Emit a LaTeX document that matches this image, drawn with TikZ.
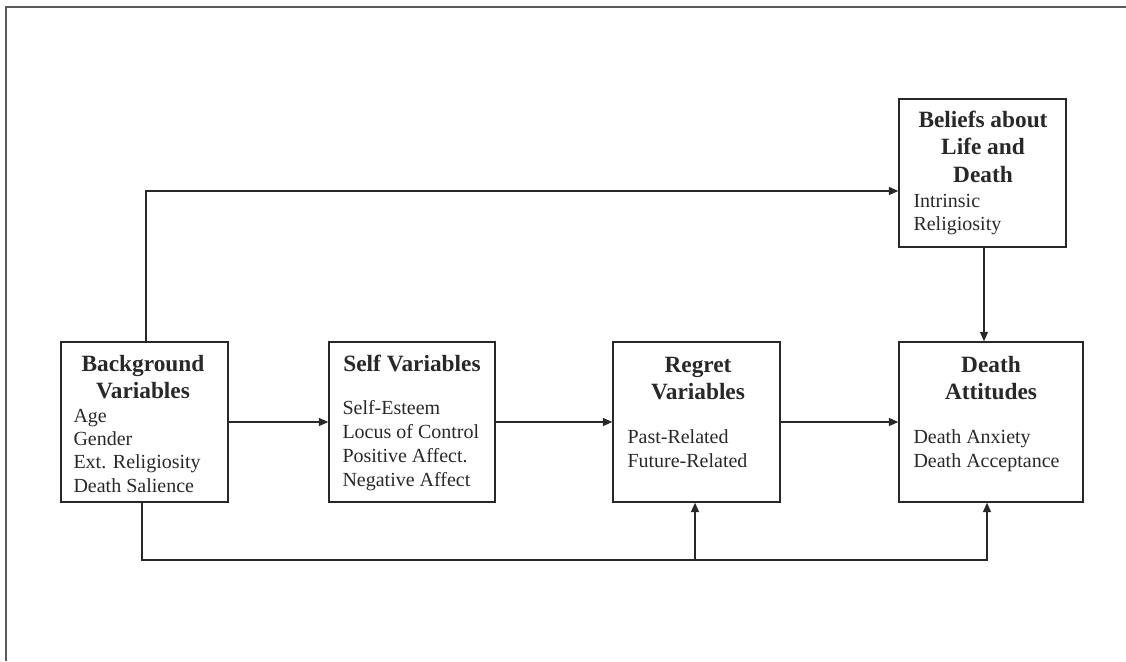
\documentclass[tikz,border=0pt]{standalone}
\usepackage{fontspec}
\setmainfont{Liberation Serif}
\usetikzlibrary{arrows.meta}

\definecolor{inkgray}{RGB}{40,40,40}
\definecolor{framegray}{RGB}{90,90,90}

\tikzset{every picture/.style={line width=0.75pt}}
\tikzset{
  varbox/.style={draw=inkgray, line width=1.1pt, inner sep=0pt},
  link/.style={draw=inkgray, line width=1pt, -{Triangle[length=7pt,width=6pt]}},
  plainlink/.style={draw=inkgray, line width=1pt},
  headtext/.style={inner sep=0pt, anchor=base, text=inkgray, font=\bfseries\fontsize{17.5}{21}\selectfont},
  itemtext/.style={inner sep=0pt, anchor=base west, text=inkgray, font=\fontsize{15}{17.5}\selectfont}
}

\begin{document}
\begin{tikzpicture}[x=0.75pt,y=0.75pt,yscale=-1,xscale=1]
	\useasboundingbox (0,0) rectangle (1126,661);

	%Frame
	\draw [draw=framegray, line width=1.5pt]  (1126,7) -- (6,7) -- (6,661) ;

	%Shape: Rectangle [background]
	\node [varbox, minimum width=125.25pt, minimum height=120pt] (bg) at (144.5,422) {};
	%Shape: Rectangle [self]
	\node [varbox, minimum width=124.5pt, minimum height=120pt] (self) at (412,422) {};
	%Shape: Rectangle [regret]
	\node [varbox, minimum width=125.25pt, minimum height=120pt] (rg) at (696.5,422) {};
	%Shape: Rectangle [death attitudes]
	\node [varbox, minimum width=138pt, minimum height=120pt] (da) at (991,422) {};
	%Shape: Rectangle [beliefs]
	\node [varbox, minimum width=125.25pt, minimum height=111pt] (bel) at (982.5,173) {};

	%Bend points
	\coordinate (topturn) at (146,191) ;
	\coordinate (botturn) at (142,560) ;
	\coordinate (rgfoot) at (695,560) ;
	\coordinate (dafoot) at (987,560) ;

	%Straight Lines [top route]
	\draw [link]  (bg.north -| topturn) -- (topturn) -- (topturn -| bel.west) ;
	%Straight Lines [beliefs to attitudes]
	\draw [link]  (bel.south -| 984,0) -- (da.north -| 984,0) ;
	%Straight Lines [main chain]
	\draw [link]  (bg.east) -- (self.west) ;
	\draw [link]  (self.east) -- (rg.west) ;
	\draw [link]  (rg.east) -- (da.west) ;
	%Straight Lines [bottom route]
	\draw [plainlink]  (bg.south -| botturn) -- (botturn) -- (rgfoot) ;
	\draw [link]  (rgfoot) -- (rgfoot |- rg.south) ;
	\draw [link]  (rgfoot) -- (dafoot) -- (dafoot |- da.south) ;

	% Text Node
	\node [headtext] (bgh1) at (143,371) {Background};
	% Text Node
	\node [headtext] (bgh2) at (143,398) {Variables};
	% Text Node
	\node [itemtext] (bgi1) at (73,422) {Age};
	% Text Node
	\node [itemtext] (bgi2) at (73,445) {Gender};
	% Text Node
	\node [itemtext] (bgi3) at (73,468.5) {Ext. Religiosity};
	% Text Node
	\node [itemtext] (bgi4) at (73,492) {Death Salience};

	% Text Node
	\node [headtext] (selfh) at (412,371.5) {Self Variables};
	% Text Node
	\node [itemtext] (selfi1) at (342,414) {Self-Esteem};
	% Text Node
	\node [itemtext] (selfi2) at (342,438) {Locus of Control};
	% Text Node
	\node [itemtext] (selfi3) at (342,462) {Positive Affect.};
	% Text Node
	\node [itemtext] (selfi4) at (342,486) {Negative Affect};

	% Text Node
	\node [headtext] (rgh1) at (698,372) {Regret};
	% Text Node
	\node [headtext] (rgh2) at (698,399) {Variables};
	% Text Node
	\node [itemtext] (rgi1) at (627,443) {Past-Related};
	% Text Node
	\node [itemtext] (rgi2) at (627,467) {Future-Related};

	% Text Node
	\node [headtext] (dah1) at (991,372) {Death};
	% Text Node
	\node [headtext] (dah2) at (991,399) {Attitudes};
	% Text Node
	\node [itemtext] (dai1) at (913,443) {Death Anxiety};
	% Text Node
	\node [itemtext] (dai2) at (913,467) {Death Acceptance};

	% Text Node
	\node [headtext] (belh1) at (983,127) {Beliefs about};
	% Text Node
	\node [headtext] (belh2) at (983,154) {Life and};
	% Text Node
	\node [headtext] (belh3) at (983,182) {Death};
	% Text Node
	\node [itemtext] (beli1) at (913,207) {Intrinsic};
	% Text Node
	\node [itemtext] (beli2) at (913,230) {Religiosity};

\end{tikzpicture}
\end{document}
